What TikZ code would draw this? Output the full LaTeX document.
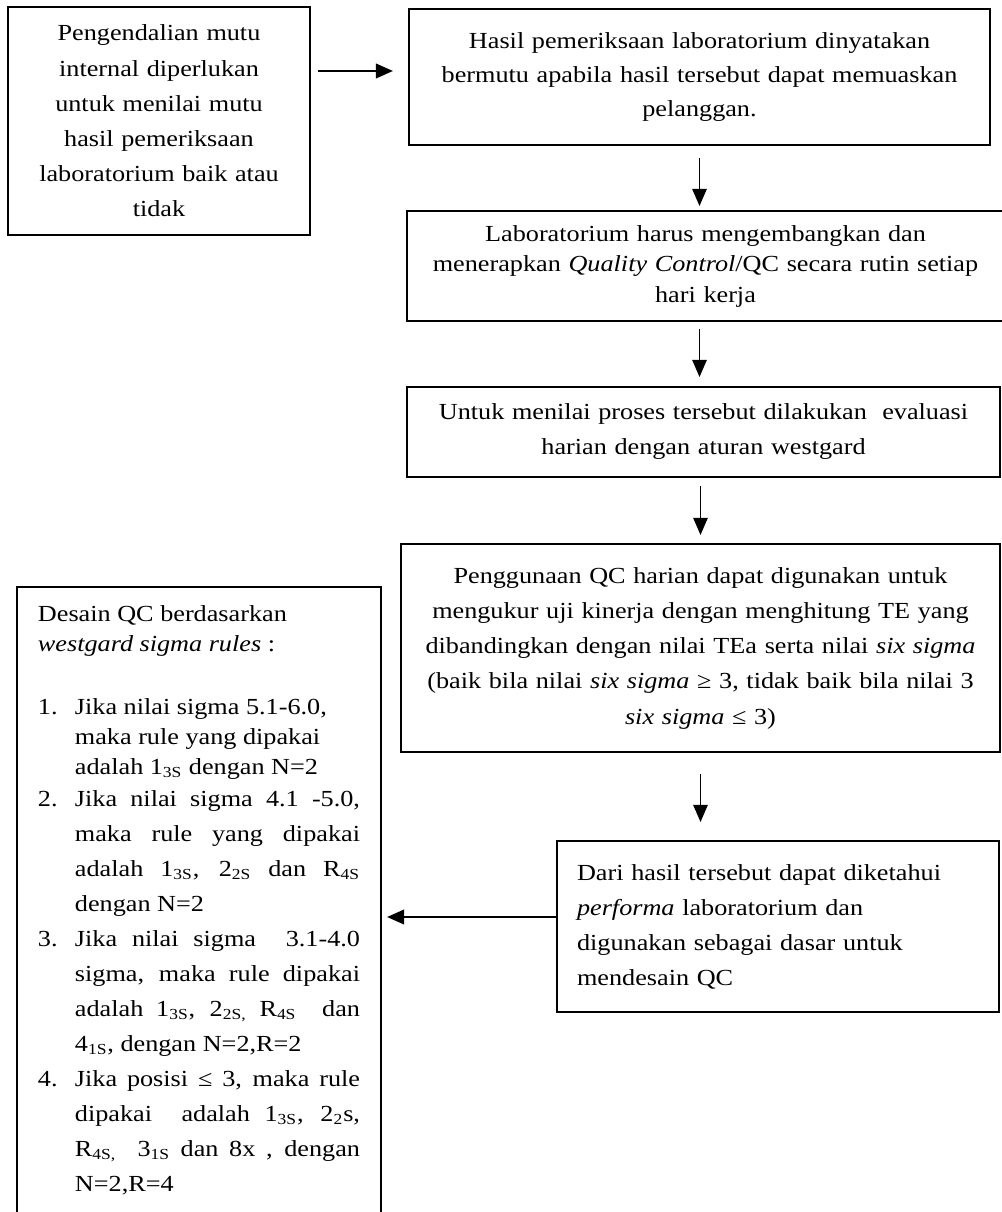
\documentclass[tikz,border=0pt]{standalone}
\usepackage{fontspec}
\setmainfont[FakeStretch=1.14]{Liberation Serif}
\usetikzlibrary{arrows.meta}

\begin{document}
\begin{tikzpicture}[x=0.522pt,y=-0.522pt]

      \useasboundingbox (0,0) rectangle (1001,1212);

      \begin{scope}[every node/.style={draw,line width=1pt,inner ysep=0pt,
          font=\fontsize{12}{18.27}\selectfont}]
        \node[align=center,text width=147.2pt,inner xsep=5.22pt,minimum height=119pt,
          font=\fontsize{12}{18.37}\selectfont] (A) at (159,121)
          {Pengendalian mutu\\ internal diperlukan\\ untuk menilai mutu\\
           hasil pemeriksaan\\ laboratorium baik atau\\ tidak};
        \node[align=center,text width=292.3pt,inner xsep=5.48pt,minimum height=71pt,
          font=\fontsize{12}{17.75}\selectfont] (B) at (699.5,77)
          {Hasil pemeriksaan laboratorium dinyatakan\\
           bermutu apabila hasil tersebut dapat memuaskan\\ pelanggan.};
        \node[align=center,text width=301.2pt,inner xsep=5.22pt,minimum height=57.42pt,
          font=\fontsize{12}{15.92}\selectfont] (C) at (705.5,266)
          {Laboratorium harus mengembangkan dan\\
           menerapkan \textit{Quality Control}/QC secara rutin setiap\\ hari kerja};
        \node[align=center,text width=299.1pt,inner xsep=5.22pt,minimum height=46.98pt]
          (D) at (703.5,432)
          {Untuk menilai proses tersebut dilakukan\ \ evaluasi\\
           harian dengan aturan westgard};
        \node[align=center,text width=302.8pt,inner xsep=4.96pt,minimum height=108.6pt,
          font=\fontsize{12}{18.4}\selectfont] (E) at (700.5,648)
          {Penggunaan QC harian dapat digunakan untuk\\
           mengukur uji kinerja dengan menghitung TE yang\\
           dibandingkan dengan nilai TEa serta nilai \textit{six sigma}\\
           (baik bila nilai \textit{six sigma} ≥ 3, tidak baik bila nilai 3\\
           \textit{six sigma} ≤ 3)};
        \node[align=left,text width=209.8pt,inner xsep=10.44pt,minimum height=89.26pt]
          (F) at (778,926.5)
          {Dari hasil tersebut dapat diketahui\\
           \textit{performa} laboratorium dan\\
           digunakan sebagai dasar untuk\\ mendesain QC};
        \node[align=justify,text width=168.1pt,inner xsep=10.96pt,minimum height=326.8pt]
          (G) at (199,900) {%
          \fontsize{12}{15.66}\selectfont
          Desain QC berdasarkan\newline
          \textit{westgard sigma rules} :\par
          \vspace{17.2pt}
          \hangindent=19.3pt\hangafter=1
          \makebox[19.3pt][l]{1.}Jika nilai sigma 5.1-6.0,\newline
          maka rule yang dipakai\newline
          adalah 1\textsubscript{3S} dengan N=2\par
          \vspace{-1.6pt}\fontsize{12}{18.27}\selectfont
          \hangindent=19.3pt\hangafter=1
          \makebox[19.3pt][l]{2.}Jika nilai sigma 4.1 -5.0,\linebreak
          maka rule yang dipakai\linebreak
          adalah 1\textsubscript{3S}, 2\textsubscript{2S} dan R\textsubscript{4S}\linebreak
          dengan N=2\par
          \hangindent=19.3pt\hangafter=1
          \makebox[19.3pt][l]{3.}Jika nilai sigma\ \ 3.1-4.0\linebreak
          sigma, maka rule dipakai\linebreak
          adalah 1\textsubscript{3S}, 2\textsubscript{2S,} R\textsubscript{4S}\ \ dan\linebreak
          4\textsubscript{1S}, dengan N=2,R=2\par
          \hangindent=19.3pt\hangafter=1
          \makebox[19.3pt][l]{4.}Jika posisi ≤ 3, maka rule\linebreak
          dipakai\ \ adalah 1\textsubscript{3S}, 2\textsubscript{2}s,\linebreak
          R\textsubscript{4S,}\ \ 3\textsubscript{1S} dan 8x , dengan\linebreak
          N=2,R=4\par};
      \end{scope}

      \begin{scope}[every edge/.style={draw,line width=1pt,-{Triangle[length=9pt,width=7.5pt]}}]
        \path ([yshift=26.1pt]A.east) edge[line width=1.5pt,shorten <=3.65pt,shorten >=7.83pt]
          ([yshift=26.1pt]A.east -| B.west);
        \path (B.south) edge[shorten <=6.26pt,shorten >=2.09pt] (B.south |- C.north);
        \path (C.south -| B.south) edge[shorten <=3.65pt,shorten >=4.7pt] (D.north -| B.south);
        \path (D.south -| E.north) edge[shorten <=4.18pt,shorten >=4.18pt] (E.north);
        \path (E.south) edge[shorten <=10.96pt,shorten >=9.4pt] (E.south |- F.north);
        \path ([yshift=4.96pt]F.west) edge[line width=1.5pt,shorten >=2.6pt]
          ([yshift=4.96pt]F.west -| G.east);
      \end{scope}

    \end{tikzpicture}
\end{document}
